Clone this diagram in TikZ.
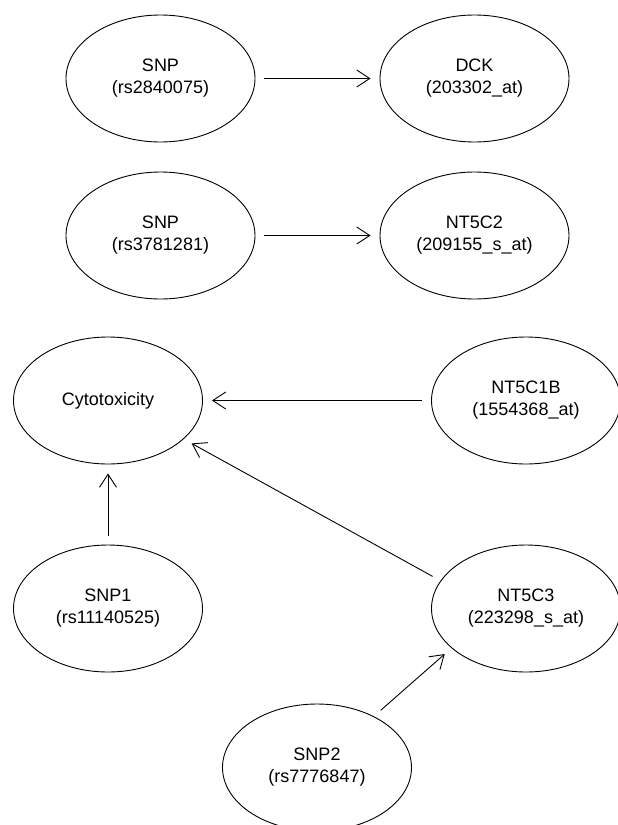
\documentclass[tikz,border=0pt]{standalone}
\usepackage{fontspec}
\setmainfont{Liberation Sans}
\usepackage{tikz}
\usetikzlibrary{shapes.geometric,arrows.meta}

\begin{document}
\begin{tikzpicture}[x=1pt,y=-1pt,
  var/.style={ellipse,draw,line width=0.9pt,minimum width=189pt,minimum height=127pt,inner sep=0pt,align=center,font=\fontsize{18}{22}\selectfont},
  eff/.style={-{Straight Barb[length=13pt,width=17pt]},line width=0.9pt,shorten >=9pt,shorten <=9pt}
]
  \useasboundingbox (0,0) rectangle (618,825);
  \node[var] (snpa)   at (160.5, 78.5) {SNP\\(rs2840075)};
  \node[var] (dck)    at (474.5, 78.5) {DCK\\(203302\_at)};
  \node[var] (snpb)   at (160.5,235.5) {SNP\\(rs3781281)};
  \node[var] (ntcii)  at (474.5,235.5) {NT5C2\\(209155\_s\_at)};
  \node[var] (cyto)   at (108,400.5)   {Cytotoxicity};
  \node[var] (ntcib)  at (526,400.5)   {NT5C1B\\(1554368\_at)};
  \node[var] (snpi)   at (108,608.5)   {SNP1\\(rs11140525)};
  \node[var] (ntciii) at (526,608.5)   {NT5C3\\(223298\_s\_at)};
  \node[var] (snpii)  at (317,767.5)   {SNP2\\(rs7776847)};
  \draw[eff] (snpa.east) -- (dck.west);
  \draw[eff] (snpb.east) -- (ntcii.west);
  \draw[eff] (ntcib.west) -- (cyto.east);
  \draw[eff] (snpi.north) -- (cyto.south);
  \draw[eff] (ntciii.162) -- (cyto.333);
  \draw[eff] (snpii.42) -- (ntciii.208);
\end{tikzpicture}
\end{document}
